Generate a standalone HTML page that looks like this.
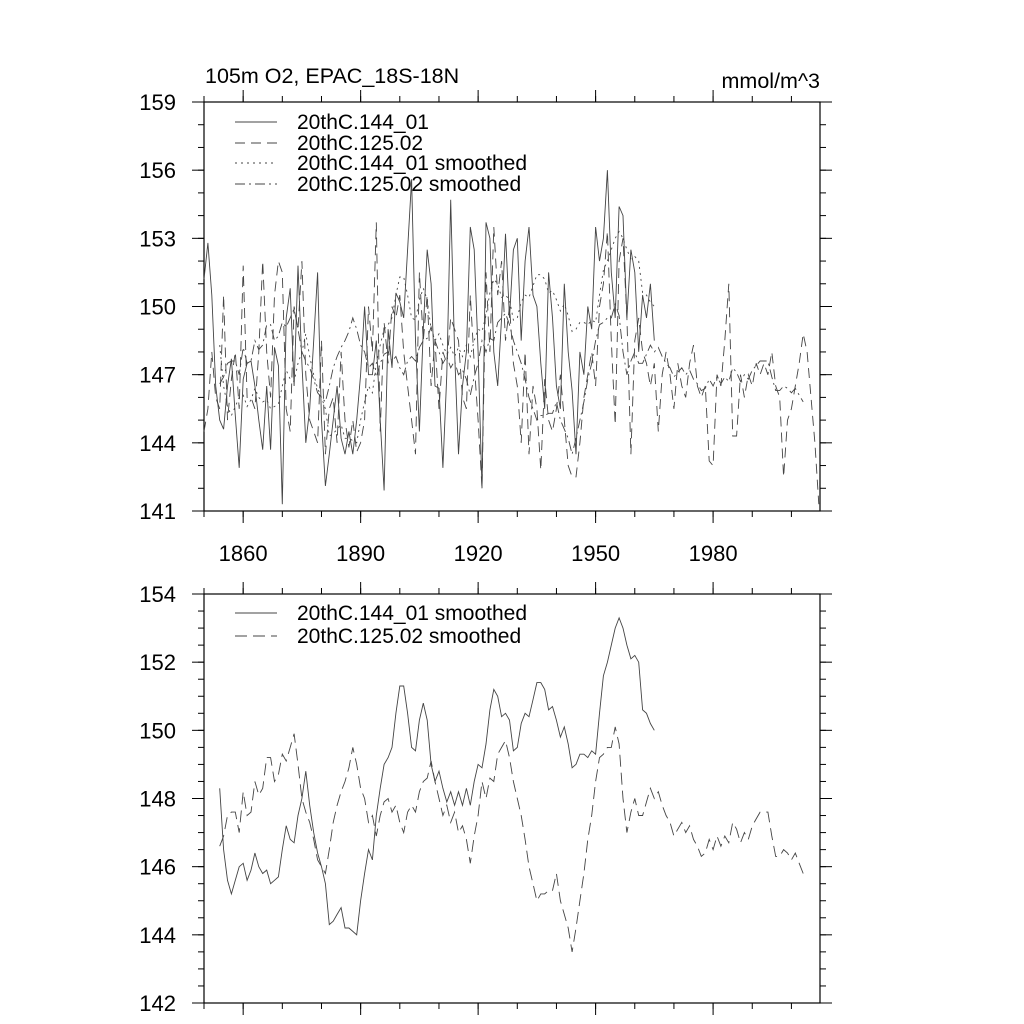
<!DOCTYPE html>
<html><head><meta charset="utf-8"><style>
html,body{margin:0;padding:0;background:#fff}
svg{display:block}
text{font-family:"Liberation Sans",sans-serif;fill:#000}
</style></head><body>
<svg id="c" width="1024" height="1024" viewBox="0 0 1024 1024">
<text x="205" y="83" font-size="21.5">105m O2, EPAC_18S-18N</text>
<text x="820" y="88" font-size="21.5" text-anchor="end">mmol/m^3</text>
<g id="top"></g>
<g id="bot"></g>
</svg>
<script>
const startRaw = 1850;
const rawA = [151.2,152.8,150.5,146.5,145,144.6,146.5,147.7,145.2,142.9,146.8,147.5,147.6,146.5,145,143.7,146.5,143.7,148.2,147.4,141.3,149.5,150.8,146.5,151.8,147.5,144,145.5,148.5,151.5,145,142.1,143.5,145,146.5,144.2,143.5,144.5,143.5,145,147,150,147,147,148.5,145,141.9,149,147.3,150.6,150.2,149.5,152.5,155.6,148.5,144.5,149,152.5,151,146.5,146.4,142.9,147,154.7,148,143.5,146.5,148,153.5,152.5,148,142,153.7,153,148,146.5,149.5,153.2,149.5,152.5,153,148.5,152,153.5,150.5,150,147.5,145.5,151.5,149.5,146.5,145.5,151,148,146.3,143.5,148,147,150,149,153.5,152,153,156,151.5,149.5,154.4,154,149.5,152.5,151.5,148,150.5,149.5,151,148.5];
const rawB = [144.5,145.5,148,146,145.5,150.5,145,146.8,148,145.5,151.8,146,146,145.5,148,152,148,146,150.5,152,151.5,145.5,144.5,150,149,152,147,145,144.5,144,148.5,143.5,145.5,146,144,148,145,143.8,145,143.6,144,145,150,148,153.7,144.5,149.3,147.5,150,149.5,150.5,148,146.5,145,143.5,151.5,148.5,150.5,146.5,148.5,145.5,148,147.5,149.5,149,148.5,146,145.5,150.5,147.5,145,142,151.5,148,153.5,150.5,152,148.5,150,147.5,146.5,144,148,143.5,146.5,145.5,142.8,146.8,145,144.5,145.5,147,145,143,142.5,142.5,144,146,147,148,146.5,150,151,153.3,148.5,144.8,152,153,149.5,143.5,148.5,149.5,148,147.5,146.5,147.5,144.5,147,148,147,145.5,147.5,146.5,146,147.5,148.3,146.5,146,146.5,143.2,143,147,146.5,148.5,151,144.3,144.3,147,146,147,146.5,147.5,147,147.5,147,148,146.5,146,142.5,145,145.5,146.5,147.5,148.8,148,146,144,141.3];
const startSmooth = 1854;
const smoothA = [148.3,146.5,145.6,145.2,145.6,146.0,146.1,145.6,145.9,146.4,146.0,145.8,145.9,145.5,145.6,145.7,146.5,147.2,146.8,146.7,147.5,148.0,148.8,147.8,147.0,146.4,146.0,145.5,144.3,144.4,144.6,144.8,144.2,144.2,144.1,144.0,145.0,145.8,146.5,146.2,147.5,148.3,149.0,149.2,149.5,150.5,151.3,151.3,150.5,149.5,149.4,150.3,150.8,150.3,149.0,148.5,148.8,148.3,147.9,148.2,147.8,148.2,147.8,148.3,147.8,148.5,149.0,148.9,149.6,150.6,151.2,151.0,150.4,150.5,150.3,149.4,149.5,150.2,150.5,150.4,150.9,151.4,151.4,151.2,150.6,150.7,150.3,149.8,150.1,149.6,148.9,149.0,149.3,149.3,149.2,149.4,149.3,150.5,151.6,152.0,152.5,153.0,153.3,153.0,152.5,152.1,152.2,152.0,150.6,150.5,150.2,150.0];
const smoothB = [146.6,146.9,147.5,147.6,147.6,147.0,148.2,147.5,147.6,148.5,148.1,148.3,149.2,149.2,148.5,148.7,149.3,149.1,149.5,149.9,149.0,148.0,147.6,147.3,146.8,146.2,146.0,145.8,146.5,147.3,147.8,148.2,148.5,148.9,149.5,149.0,148.3,148.0,147.3,147.5,146.9,147.5,147.9,148.0,147.6,147.8,147.3,147.0,147.6,147.8,147.6,148.2,148.5,148.6,149.1,148.5,148.0,147.5,147.8,147.3,147.6,147.0,147.2,146.8,146.1,146.9,147.5,148.5,148.0,148.6,148.5,149.3,149.5,149.7,149.2,148.5,148.0,147.5,146.8,146.0,145.5,145.0,145.2,145.2,145.3,145.3,145.8,145.0,144.6,144.2,143.5,144.2,145.0,145.8,146.8,147.5,148.5,149.2,149.3,149.5,149.5,150.1,149.6,148.0,147.0,147.6,148.0,147.5,147.5,147.9,148.3,148.0,148.2,147.8,147.5,147.3,146.9,147.1,147.3,147.0,147.2,146.8,146.6,146.3,146.4,146.8,146.5,146.9,146.6,146.9,146.7,147.3,147.1,146.7,147.0,146.8,147.2,147.4,147.6,147.6,147.6,146.9,146.3,146.3,146.5,146.4,146.2,146.4,146.1,145.8];
const xTickYears = [1860,1890,1920,1950,1980];
const topYTicks = [141,144,147,150,153,156,159];
const botYTicks = [142,144,146,148,150,152,154];

const NS='http://www.w3.org/2000/svg';
const X0=204,X1=820,YR0=1850,YR1=2007.3;
function sx(yr){return X0+(yr-YR0)*(X1-X0)/(YR1-YR0);}
function mk(tag,attrs,parent){const e=document.createElementNS(NS,tag);for(const k in attrs)e.setAttribute(k,attrs[k]);parent.appendChild(e);return e;}
function axes(g,top,bot,vmin,vmax,yticks,minorStep,labelsX){
  const sy=v=>bot-(v-vmin)*(bot-top)/(vmax-vmin);
  const fr=mk('rect',{x:X0,y:top,width:X1-X0,height:bot-top,fill:'none',stroke:'#000','stroke-width':1.2},g);
  
  
  for(let v=vmin;v<=vmax+1e-6;v+=minorStep){
    const y=sy(v);
    mk('line',{x1:X0,y1:y,x2:X0-6,y2:y,stroke:'#000'},g);
    mk('line',{x1:X1,y1:y,x2:X1+6,y2:y,stroke:'#000'},g);
  }
  yticks.forEach(v=>{
    const y=sy(v);
    mk('line',{x1:X0,y1:y,x2:X0-12,y2:y,stroke:'#000'},g);
    mk('line',{x1:X1,y1:y,x2:X1+12,y2:y,stroke:'#000'},g);
    const t=mk('text',{x:176,y:y+8,'font-size':22,'text-anchor':'end'},g);
    t.textContent=v;
    
    
  });
  for(let yr=1850;yr<=2000;yr+=10){
    const x=sx(yr);
    mk('line',{x1:x,y1:bot,x2:x,y2:bot+6,stroke:'#000'},g);
    mk('line',{x1:x,y1:top,x2:x,y2:top-6,stroke:'#000'},g);
  }
  xTickYears.forEach(yr=>{
    const x=sx(yr);
    mk('line',{x1:x,y1:bot,x2:x,y2:bot+12,stroke:'#000'},g);
    mk('line',{x1:x,y1:top,x2:x,y2:top-12,stroke:'#000'},g);
    if(labelsX){
      const t=mk('text',{x:x,y:bot+50,'font-size':22,'text-anchor':'middle'},g);
      t.textContent=yr;
      
      
    }
  });
  return sy;
}
function series(g,arr,start,sy,dash,name){
  const pts=arr.map((v,i)=>sx(start+i).toFixed(1)+','+sy(v).toFixed(1)).join(' ');
  const p=mk('polyline',{points:pts,fill:'none',stroke:'#444','stroke-width':0.9,'stroke-dasharray':dash},g);
  
  
}
function legend(g,x,y,dash,label,name){
  const l=mk('line',{x1:x,y1:y,x2:x+42,y2:y,stroke:'#444','stroke-width':0.9,'stroke-dasharray':dash},g);
  
  
  const t=mk('text',{x:x+62,y:y+7,'font-size':21},g);
  t.textContent=label;
  
  
}
const gt=document.getElementById('top'), gb=document.getElementById('bot');
const syT=axes(gt,102,511,141,159,topYTicks,1,true);
series(gt,rawA,startRaw,syT,'none','line-144-01');
series(gt,rawB,startRaw,syT,'10 6','line-125-02');
series(gt,smoothA,startSmooth,syT,'2 4','line-144-01-smoothed');
series(gt,smoothB,startSmooth,syT,'10 4 2 4','line-125-02-smoothed');
legend(gt,235,122,'none','20thC.144_01','legend-entry-144-01');
legend(gt,235,143,'10 6','20thC.125.02','legend-entry-125-02');
legend(gt,235,163,'2 4','20thC.144_01 smoothed','legend-entry-144-01-smoothed');
legend(gt,235,184,'10 4 2 4','20thC.125.02 smoothed','legend-entry-125-02-smoothed');
const syB=axes(gb,594,1003,142,154,botYTicks,0.5,false);
series(gb,smoothA,startSmooth,syB,'none','bottom-line-144-01-smoothed');
series(gb,smoothB,startSmooth,syB,'12 6','bottom-line-125-02-smoothed');
legend(gb,235,613,'none','20thC.144_01 smoothed','bottom-legend-144-01-smoothed');
legend(gb,235,636,'12 6','20thC.125.02 smoothed','bottom-legend-125-02-smoothed');
</script>
</body></html>
